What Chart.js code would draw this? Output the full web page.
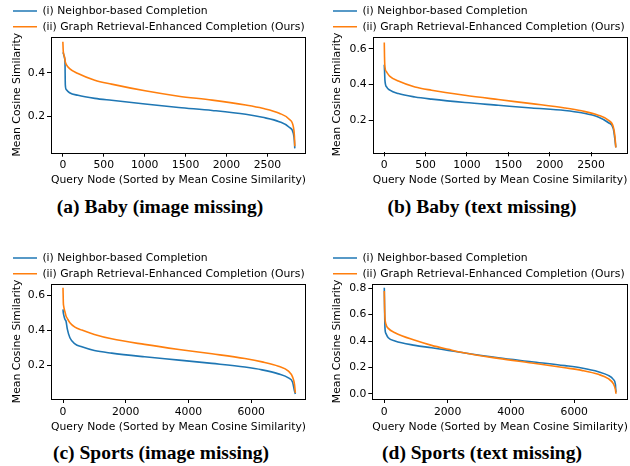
<!DOCTYPE html>
<html>
<head>
<meta charset="utf-8">
<script src="https://cdn.jsdelivr.net/npm/chart.js"></script>
<style>
  body { margin: 0; background: #fff; }
  #wrap { position: relative; width: 630px; height: 466px; overflow: hidden; }
  canvas { position: absolute; }
  .cap { position: absolute; font: bold 19.5px "Liberation Serif"; white-space: nowrap; transform: translate(-50%, -50%); color: #000; }
</style>
</head>
<body>
<div id="wrap">
  <canvas id="ca" width="315" height="190" style="left:0;top:0"></canvas>
  <canvas id="cb" width="310" height="190" style="left:320px;top:0"></canvas>
  <canvas id="cc" width="315" height="190" style="left:0;top:247px"></canvas>
  <canvas id="cd" width="310" height="190" style="left:320px;top:247px"></canvas>
  <div class="cap" style="left:160px;top:207px">(a) Baby (image missing)</div>
  <div class="cap" style="left:482px;top:207px">(b) Baby (text missing)</div>
  <div class="cap" style="left:161px;top:453px">(c) Sports (image missing)</div>
  <div class="cap" style="left:482px;top:453px">(d) Sports (text missing)</div>
</div>

<script>
  const seriesNames = ['(i) Neighbor-based Completion', '(ii) Graph Retrieval-Enhanced Completion (Ours)'];

  // (a) Baby, image missing
  const xA = [0, 5, 20, 26, 30, 41, 82, 185, 390, 595, 1005, 1415, 1825, 2235, 2440, 2645, 2767, 2817, 2830, 2835];
  const blueA = [0.495, 0.492, 0.47, 0.45, 0.345, 0.323, 0.308, 0.296, 0.282, 0.273, 0.256, 0.240, 0.226, 0.208, 0.194, 0.174, 0.148, 0.120, 0.085, 0.05];
  const orangeA = [0.545, 0.50, 0.475, 0.46, 0.451, 0.44, 0.42, 0.397, 0.366, 0.348, 0.317, 0.292, 0.274, 0.251, 0.236, 0.213, 0.185, 0.151, 0.11, 0.06];
  const xTicksA = [0, 500, 1000, 1500, 2000, 2500];
  const yTicksA = [0.2, 0.4];

  // (b) Baby, text missing
  const xB = [0, 3, 8, 28, 68, 170, 371, 572, 975, 1378, 1781, 2184, 2386, 2587, 2708, 2769, 2790, 2800];
  const blueB = [0.511, 0.48, 0.424, 0.387, 0.369, 0.35, 0.331, 0.319, 0.30, 0.285, 0.270, 0.256, 0.243, 0.22, 0.189, 0.156, 0.091, 0.05];
  const orangeB = [0.635, 0.554, 0.498, 0.470, 0.446, 0.42, 0.387, 0.369, 0.341, 0.317, 0.294, 0.270, 0.254, 0.230, 0.202, 0.165, 0.109, 0.05];
  const xTicksB = [0, 500, 1000, 1500, 2000, 2500];
  const yTicksB = [0.2, 0.4, 0.6];

  // (c) Sports, image missing
  const xC = [0, 10, 20, 64, 96, 140, 220, 380, 600, 1000, 1550, 2600, 3700, 4750, 5800, 6350, 6870, 7190, 7320, 7384, 7410];
  const blueC = [0.52, 0.50, 0.49, 0.462, 0.452, 0.405, 0.357, 0.322, 0.305, 0.284, 0.269, 0.248, 0.229, 0.210, 0.189, 0.173, 0.150, 0.127, 0.104, 0.051, 0.035];
  const orangeC = [0.644, 0.56, 0.54, 0.505, 0.482, 0.467, 0.443, 0.418, 0.401, 0.376, 0.351, 0.319, 0.290, 0.265, 0.238, 0.219, 0.194, 0.166, 0.133, 0.089, 0.041];
  const xTicksC = [0, 2000, 4000, 6000];
  const yTicksC = [0.2, 0.4, 0.6];

  // (d) Sports, text missing
  const xD = [0, 10, 21, 53, 126, 337, 969, 1495, 2022, 2548, 3601, 4654, 5707, 6234, 6760, 7076, 7234, 7300, 7318];
  const blueD = [0.805, 0.628, 0.50, 0.456, 0.425, 0.40, 0.367, 0.349, 0.329, 0.309, 0.273, 0.243, 0.213, 0.195, 0.167, 0.139, 0.109, 0.071, 0.01];
  const orangeD = [0.78, 0.653, 0.577, 0.527, 0.496, 0.463, 0.405, 0.367, 0.337, 0.309, 0.268, 0.233, 0.197, 0.177, 0.147, 0.114, 0.076, 0.033, 0.0];
  const xTicksD = [0, 2000, 4000, 6000];
  const yTicksD = [0.0, 0.2, 0.4, 0.6, 0.8];

  Chart.defaults.font.family = 'DejaVu Sans';
  Chart.defaults.font.size = 10.8;
  Chart.defaults.color = '#000';

  // box round the plot area, like matplotlib spines
  const frame = {
    id: 'frame',
    afterDraw(chart) {
      const a = chart.chartArea;
      const c = chart.ctx;
      c.save();
      c.strokeStyle = '#000';
      c.lineWidth = 1;
      c.strokeRect(Math.round(a.left) + 0.5, Math.round(a.top) + 0.5, Math.round(a.right - a.left) - 1, Math.round(a.bottom - a.top));
      c.restore();
    }
  };

  function pts(xs, ys) {
    return xs.map((x, i) => ({x: x, y: ys[i]}));
  }

  function makeChart(id, xs, blue, orange, xTicks, yTicks, xRange, yRange, yAxisW, padRight, xAxisH) {
    const ds = (label, data, color, order) => ({
      label: label,
      data: data,
      borderColor: color,
      backgroundColor: color,
      borderWidth: 1.6,
      pointRadius: 0,
      cubicInterpolationMode: 'monotone',
      order: order
    });
    new Chart(document.getElementById(id), {
      type: 'line',
      data: {
        datasets: [
          ds(seriesNames[0], pts(xs, blue), '#1f77b4', 1),
          ds(seriesNames[1], pts(xs, orange), '#ff7f0e', 0)
        ]
      },
      options: {
        responsive: false,
        animation: false,
        layout: { padding: { left: 8, right: padRight, top: 0.6, bottom: 0 } },
        plugins: {
          legend: {
            position: 'top',
            align: 'start',
            maxHeight: 36.1,
            labels: {
              usePointStyle: true,
              pointStyle: 'line',
              pointStyleWidth: 24,
              padding: 5,
              sort: (a, b) => a.datasetIndex - b.datasetIndex
            }
          },
          tooltip: { enabled: false }
        },
        scales: {
          x: {
            type: 'linear',
            min: xRange[0],
            max: xRange[1],
            afterBuildTicks: s => { s.ticks = xTicks.map(v => ({value: v})); },
            afterFit: s => { s.height = xAxisH; },
            border: { display: false },
            grid: { drawOnChartArea: false, drawTicks: true, tickLength: 4, color: '#000' },
            ticks: { padding: 2.5, maxRotation: 0, callback: v => String(v) },
            title: { display: true, text: 'Query Node (Sorted by Mean Cosine Similarity)', padding: { top: 0, bottom: 3.5 } }
          },
          y: {
            type: 'linear',
            min: yRange[0],
            max: yRange[1],
            afterBuildTicks: s => { s.ticks = yTicks.map(v => ({value: v})); },
            afterFit: s => { s.width = yAxisW; },
            border: { display: false },
            grid: { drawOnChartArea: false, drawTicks: true, tickLength: 4, color: '#000' },
            ticks: { padding: 2, callback: v => v.toFixed(1) },
            title: { display: true, text: 'Mean Cosine Similarity', padding: { top: 2.5, bottom: 0 } }
          }
        }
      },
      plugins: [frame]
    });
  }

  makeChart('ca', xA, blueA, orangeA, xTicksA, yTicksA, [-145, 2972], [0.030, 0.568], 43, 9, 37.3);
  makeChart('cb', xB, blueB, orangeB, xTicksB, yTicksB, [-140, 2940], [0.023, 0.667], 44.7, 2.6, 37.7);
  makeChart('cc', xC, blueC, orangeC, xTicksC, yTicksC, [-383, 7750], [0.006, 0.667], 43, 9, 38);
  makeChart('cd', xD, blueD, orangeD, xTicksD, yTicksD, [-379, 7698], [-0.04, 0.835], 44.3, 2, 38);
</script>
</body>
</html>
